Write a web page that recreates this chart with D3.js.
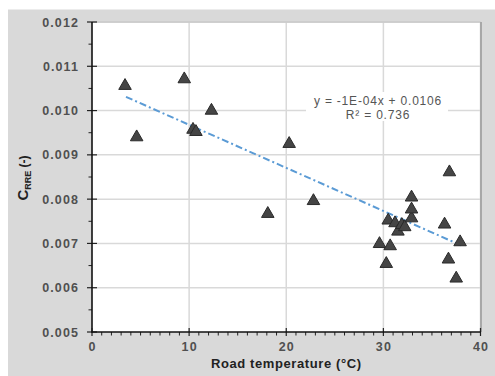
<!DOCTYPE html>
<html><head><meta charset="utf-8">
<script src="https://cdn.jsdelivr.net/npm/d3@7"></script>
<style>html,body{margin:0;padding:0;background:#fff;}svg{display:block;}</style>
</head><body>
<svg id="c" width="495" height="376"></svg>
<script>
const roadTemp = [3.4, 4.6, 9.5, 10.4, 10.7, 12.3, 18.1, 20.3, 22.8, 29.6, 30.3, 30.5, 30.7, 31.2, 31.5, 31.9, 32.2, 32.9, 32.9, 32.9, 36.3, 36.7, 36.8, 37.5, 37.9];
const crre = [0.01060, 0.00944, 0.01075, 0.00961, 0.00956, 0.01004, 0.00771, 0.00929, 0.00800, 0.00703, 0.00658, 0.00756, 0.00698, 0.00750, 0.00731, 0.00746, 0.00741, 0.00761, 0.00781, 0.00808, 0.00747, 0.00668, 0.00865, 0.00625, 0.00707];
const xTicks = [0, 10, 20, 30, 40];
const yTicks = [0.005, 0.006, 0.007, 0.008, 0.009, 0.010, 0.011, 0.012];
const trendX = [3.5, 38];
const trendSlope = -0.0000972, trendIntercept = 0.01065;
const eqLines = ["y = -1E-04x + 0.0106", "R² = 0.736"];
const xTitle = "Road temperature (°C)";

const svg = d3.select("#c");
const L = 92, R = 480.5, T = 22, B = 332;
const x = d3.scaleLinear().domain([0, 40]).range([L, R]);
const y = d3.scaleLinear().domain([0.005, 0.012]).range([B, T]);
const font = "'Liberation Sans', Arial, sans-serif";
const txt = "#505050";

svg.append("rect").attr("x", 8).attr("y", 9.5).attr("width", 487).attr("height", 367).attr("fill", "#d9d9d9");
svg.append("rect").attr("x", L).attr("y", T).attr("width", R - L).attr("height", B - T).attr("fill", "#fff");

// grid
svg.append("g").selectAll("line").data(yTicks.slice(1)).join("line")
  .attr("x1", L).attr("x2", R).attr("y1", d => y(d)).attr("y2", d => y(d))
  .attr("stroke", "#d9d9d9").attr("stroke-width", 1.5);
svg.append("g").selectAll("line").data(xTicks.slice(1)).join("line")
  .attr("y1", T).attr("y2", B).attr("x1", d => x(d)).attr("x2", d => x(d))
  .attr("stroke", "#d9d9d9").attr("stroke-width", 1.5);
// plot border top/right
svg.append("line").attr("x1", L).attr("x2", R).attr("y1", T).attr("y2", T).attr("stroke", "#c8c8c8").attr("stroke-width", 1.5);
svg.append("line").attr("x1", R + 0.5).attr("x2", R + 0.5).attr("y1", T).attr("y2", B).attr("stroke", "#a8a8a8").attr("stroke-width", 2);

// equation label
const eqX = 378;
svg.append("rect").attr("x", eqX - 72).attr("y", 92).attr("width", 142).attr("height", 29).attr("fill", "#fff");
svg.append("g").selectAll("text").data(eqLines).join("text")
  .attr("x", eqX).attr("y", (d, i) => 105 + i * 14)
  .attr("text-anchor", "middle").attr("font-family", font).attr("font-size", 12)
  .attr("letter-spacing", 0.8).attr("fill", "#555").text(d => d);

// trend line
svg.append("path")
  .attr("d", d3.line().x(d => x(d)).y(d => y(trendSlope * d + trendIntercept))(trendX))
  .attr("fill", "none").attr("stroke", "#5b9bd5").attr("stroke-width", 2)
  .attr("stroke-dasharray", "7,3,2,3");

// points
const sym = d3.symbol().type(d3.symbolTriangle).size(68);
svg.append("g").selectAll("path").data(roadTemp).join("path")
  .attr("d", sym)
  .attr("transform", (d, i) => `translate(${x(d)},${y(crre[i]) + 1.8})`)
  .attr("fill", "#454545").attr("stroke", "#2a2a2a").attr("stroke-width", 1);

// y axis
const yAxis = d3.axisLeft(y).tickValues(yTicks).tickSize(0).tickFormat(d3.format(".3f"));
const gy = svg.append("g").attr("transform", `translate(${L},0)`).call(yAxis);
gy.select(".domain").remove();
gy.selectAll("text").attr("x", -13).attr("font-family", font).attr("font-size", 12.5)
  .attr("font-weight", "bold").attr("letter-spacing", 1.1).attr("fill", txt);
const yMinor = d3.range(0.0055, 0.012, 0.001);
svg.append("g").selectAll("line").data(yMinor).join("line")
  .attr("x1", L - 3.5).attr("x2", L).attr("y1", d => y(d)).attr("y2", d => y(d))
  .attr("stroke", "#222").attr("stroke-width", 1);
svg.append("g").selectAll("line").data(yTicks).join("line")
  .attr("x1", L - 5).attr("x2", L + 5).attr("y1", d => y(d)).attr("y2", d => y(d))
  .attr("stroke", "#222").attr("stroke-width", 1.2);
svg.append("line").attr("x1", L).attr("x2", L).attr("y1", T).attr("y2", B + 0.5).attr("stroke", "#111").attr("stroke-width", 1.6);

// x axis
const xAxis = d3.axisBottom(x).tickValues(xTicks).tickSize(0).tickFormat(d3.format("d"));
const gx = svg.append("g").attr("transform", `translate(0,${B})`).call(xAxis);
gx.select(".domain").remove();
gx.selectAll("text").attr("y", 10).attr("font-family", font).attr("font-size", 12.5)
  .attr("font-weight", "bold").attr("letter-spacing", 1.1).attr("fill", txt);
const xMinor = d3.range(1, 40, 1).filter(d => d % 10 !== 0);
svg.append("g").selectAll("line").data(xMinor).join("line")
  .attr("x1", d => x(d)).attr("x2", d => x(d)).attr("y1", B).attr("y2", B + 3.5)
  .attr("stroke", "#222").attr("stroke-width", 1);
svg.append("g").selectAll("line").data(xTicks).join("line")
  .attr("x1", d => x(d)).attr("x2", d => x(d)).attr("y1", B - 4).attr("y2", B + 4)
  .attr("stroke", "#222").attr("stroke-width", 1.2);
svg.append("line").attr("x1", L - 0.8).attr("x2", R).attr("y1", B).attr("y2", B).attr("stroke", "#111").attr("stroke-width", 1.6);

// titles
svg.append("text").attr("x", (L + R) / 2).attr("y", 368).attr("text-anchor", "middle")
  .attr("font-family", font).attr("font-size", 13).attr("font-weight", "bold")
  .attr("letter-spacing", 0.6).attr("fill", "#222").text(xTitle);
const yt = svg.append("text").attr("transform", `translate(28,178) rotate(-90)`)
  .attr("text-anchor", "middle").attr("font-family", font).attr("font-weight", "bold").attr("fill", "#222");
yt.append("tspan").attr("font-size", 15).text("C");
yt.append("tspan").attr("font-size", 9).attr("dy", 3).text("RRE");
yt.append("tspan").attr("font-size", 12).attr("dy", -3).text(" (-)");
</script>
</body></html>
